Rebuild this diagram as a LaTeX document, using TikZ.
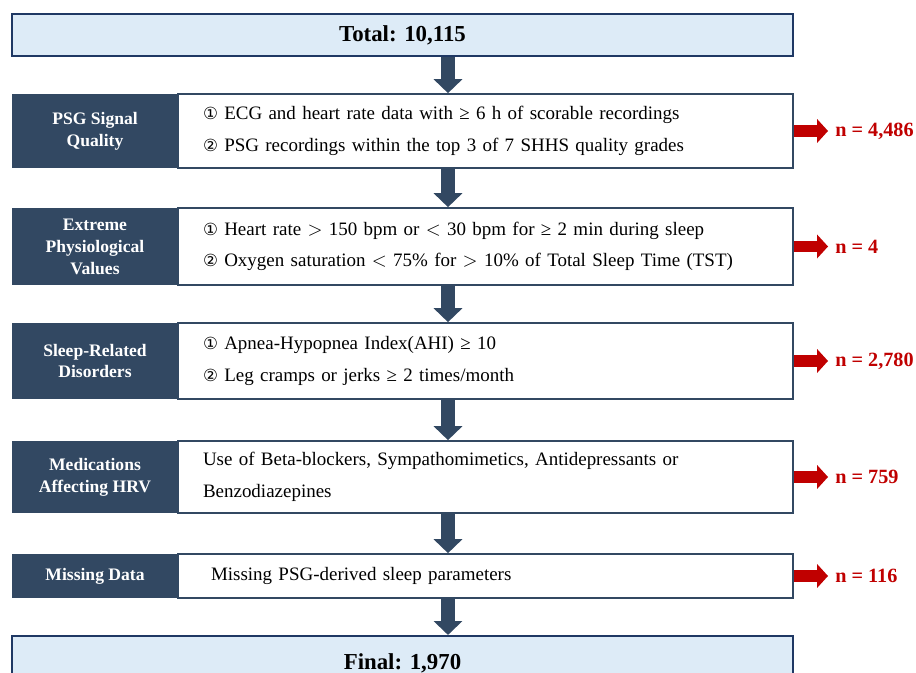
\documentclass[tikz,border=0pt]{standalone}
\usepackage{fontspec}
\setmainfont{Liberation Serif}
\newfontfamily\symfont{DejaVu Sans}
\usetikzlibrary{positioning, arrows.meta, calc}
\definecolor{FCNavy}{RGB}{50,72,98}
\definecolor{FCEdge}{RGB}{31,56,100}
\definecolor{FCSky}{RGB}{221,235,247}
\definecolor{FCRed}{RGB}{192,0,0}
\newcommand{\cnum}[1]{{\symfont\fontsize{9.5}{18}\selectfont #1}}

\tikzset{
  endbox/.style={draw=FCEdge, line width=1.2pt, fill=FCSky,
    minimum width=15.62cm, font=\fontsize{13}{15}\selectfont\bfseries},
  stagebox/.style={fill=FCNavy, text=white, minimum width=3.32cm,
    align=center, font=\fontsize{10}{12.5}\selectfont\bfseries},
  critbox/.style={draw=FCNavy, line width=1pt, fill=white,
    text width=11.3cm, inner xsep=0.5cm, align=left,
    font=\fontsize{10.8}{18}\selectfont},
  countlabel/.style={text=FCRed, anchor=west, inner xsep=0pt,
    font=\fontsize{11.5}{13}\selectfont\bfseries},
  flow/.style={FCNavy, line width=7.9pt,
    -{Triangle[width=16.4pt, length=7.9pt, line width=0pt]}},
  drop/.style={FCRed, line width=6.8pt, shorten >=0.14cm,
    -{Triangle[width=13.6pt, length=6.2pt, line width=0pt]}},
}

\begin{document}
\begin{tikzpicture}
  \useasboundingbox (0,0) rectangle (18.32,-13.46);
  \clip (0,0) rectangle (18.32,-13.46);
  \coordinate (ax) at (8.96,0);

  \node[endbox, minimum height=0.84cm] (total) at (8.05,-0.70) {Total: 10,115};

  \foreach \i/\yc/\h/\stage/\crit/\n in {
      1/-2.62/1.48/{PSG Signal\\Quality}/{\cnum{①} ECG and heart rate data with ≥ 6 h of scorable recordings\\\cnum{②} PSG recordings within the top 3 of 7 SHHS quality grades}/{4,486},
      2/-4.93/1.54/{Extreme\\Physiological\\Values}/{\cnum{①} Heart rate $>$ 150 bpm or $<$ 30 bpm for ≥ 2 min during sleep\\\cnum{②} Oxygen saturation $<$ 75\% for $>$ 10\% of Total Sleep Time (TST)}/{4},
      3/-7.22/1.52/{Sleep-Related\\Disorders}/{\cnum{①} Apnea-Hypopnea Index(AHI) ≥ 10\\\cnum{②} Leg cramps or jerks ≥ 2 times/month}/{2,780},
      4/-9.54/1.44/{Medications\\Affecting HRV}/{Use of Beta-blockers, Sympathomimetics, Antidepressants or\\Benzodiazepines}/{759},
      5/-11.52/0.88/{Missing Data}/{\hspace*{0.16cm}Missing PSG-derived sleep parameters}/{116}} {
    \node[stagebox, minimum height=\h cm] (stage\i) at (1.90,\yc) {\stage};
    \node[critbox, minimum height=\h cm] (crit\i) at (9.71,\yc) {\crit};
    \node[countlabel] (n\i) at (16.70,\yc) {n = \n};
    % exclusion arrow
    \draw[drop] (crit\i.east) -- (n\i.west);
  }

  \node[endbox, minimum height=1.08cm] (final) at (8.05,-13.26) {Final: 1,970};

  % main flow
  \foreach \a/\b in {total/crit1, crit1/crit2, crit2/crit3, crit3/crit4,
                     crit4/crit5, crit5/final}
    \draw[flow] (ax |- \a.south) -- (ax |- \b.north);
\end{tikzpicture}
\end{document}
